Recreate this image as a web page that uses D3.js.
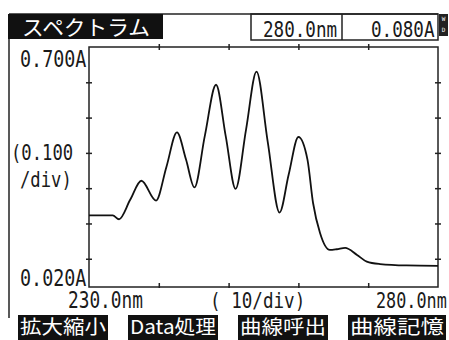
<!DOCTYPE html>
<html>
<head>
<meta charset="utf-8">
<script src="https://cdn.jsdelivr.net/npm/d3@7"></script>
<style>
  body { margin: 0; background: #fff; }
  text { font-family: "DejaVu Sans Mono", monospace; fill: #1a1a1a; }
  .jp { font-family: "Noto Sans CJK JP", sans-serif; }
</style>
</head>
<body>
<div id="chart"></div>
<script>
// spectrum (nm, absorbance)
const wavelength = [230.0, 233.4, 234.3, 235.9, 237.5, 239.6, 241.1, 242.6, 243.9, 245.1,
  246.6, 248.2, 249.6, 251.0, 252.5, 254.0, 255.6, 257.3, 258.6, 260.0, 261.3, 262.1,
  263.1, 264.5, 265.5, 266.7, 268.4, 269.8, 271.7, 275.5, 280.0];
const absorbance = [0.223, 0.223, 0.212, 0.267, 0.321, 0.265, 0.361, 0.458, 0.381, 0.302,
  0.449, 0.593, 0.446, 0.298, 0.466, 0.630, 0.432, 0.231, 0.338, 0.445, 0.381, 0.258,
  0.173, 0.125, 0.127, 0.131, 0.111, 0.092, 0.085, 0.081, 0.080];

const yTicks = [0.1, 0.2, 0.3, 0.4, 0.5, 0.6];
const xTicks = [240, 250, 260, 270];
const softKeys = ['拡大縮小', 'Data処理', '曲線呼出', '曲線記憶'];
const title = 'スペクトラム';
const readout = ['280.0nm', '0.080A'];

const W = 449, H = 340;
const plot = { left: 89, right: 438, top: 47, bottom: 287 };

const svg = d3.select('#chart')
  .append('svg')
  .attr('width', W)
  .attr('height', H);

const x = d3.scaleLinear().domain([230, 280]).range([plot.left, plot.right]);
const y = d3.scaleLinear().domain([0.02, 0.7]).range([plot.bottom, plot.top]);

// the instrument font is tall and narrow: stretch mono text vertically
function monoText(tx, ty, size, str) {
  return svg.append('text')
    .attr('transform', `translate(${tx},${ty}) scale(1,1.25)`)
    .style('font-size', size + 'px')
    .text(str);
}

// outer frame + header
svg.append('line').attr('x1', 9).attr('x2', 9).attr('y1', 14).attr('y2', 318)
  .attr('stroke', '#222').attr('stroke-width', 1.5);
svg.append('line').attr('x1', 9).attr('x2', 438).attr('y1', 14).attr('y2', 14)
  .attr('stroke', '#222').attr('stroke-width', 1.5);

svg.append('rect').attr('x', 8).attr('y', 14).attr('width', 155).attr('height', 25).attr('fill', '#111');
svg.append('text').attr('class', 'jp')
  .attr('x', 22).attr('y', 35)
  .style('font-size', '21px').style('fill', '#fff')
  .attr('textLength', 128).attr('lengthAdjust', 'spacingAndGlyphs')
  .text(title);

// readout boxes
svg.append('rect').attr('x', 251).attr('y', 14).attr('width', 187).attr('height', 26)
  .attr('fill', 'none').attr('stroke', '#222').attr('stroke-width', 1.5);
svg.append('line').attr('x1', 342).attr('x2', 342).attr('y1', 14).attr('y2', 40)
  .attr('stroke', '#222').attr('stroke-width', 1.5);
monoText(263, 37, 17.6, readout[0]);
monoText(371, 37, 17.6, readout[1]);

// little W/D badge
svg.append('rect').attr('x', 439).attr('y', 14).attr('width', 9).attr('height', 22).attr('fill', '#222');
svg.append('text').attr('x', 443.5).attr('y', 21).attr('text-anchor', 'middle')
  .style('font-size', '6px').style('fill', '#fff').text('W');
svg.append('text').attr('x', 443.5).attr('y', 32).attr('text-anchor', 'middle')
  .style('font-size', '6px').style('fill', '#fff').text('D');

// plot frame
svg.append('rect')
  .attr('x', plot.left).attr('y', plot.top)
  .attr('width', plot.right - plot.left).attr('height', plot.bottom - plot.top)
  .attr('fill', 'none').attr('stroke', '#222').attr('stroke-width', 1.5);

// cross ticks on all four sides
function crossTicks(axisA, axisB, transform) {
  [axisA, axisB].forEach(ax => {
    svg.append('g')
      .attr('transform', transform)
      .call(ax.tickSizeOuter(0).tickFormat(''))
      .call(g => g.select('.domain').remove())
      .call(g => g.selectAll('line').attr('stroke', '#222').attr('stroke-width', 1.5));
  });
}
crossTicks(d3.axisLeft(y).tickValues(yTicks).tickSizeInner(3),
  d3.axisRight(y).tickValues(yTicks).tickSizeInner(3), `translate(${plot.left},0)`);
crossTicks(d3.axisLeft(y).tickValues(yTicks).tickSizeInner(3),
  d3.axisRight(y).tickValues(yTicks).tickSizeInner(3), `translate(${plot.right},0)`);
crossTicks(d3.axisTop(x).tickValues(xTicks).tickSizeInner(3),
  d3.axisBottom(x).tickValues(xTicks).tickSizeInner(3), `translate(0,${plot.top})`);
crossTicks(d3.axisTop(x).tickValues(xTicks).tickSizeInner(4),
  d3.axisBottom(x).tickValues(xTicks).tickSizeInner(1), `translate(0,${plot.bottom})`);

// y labels
const fmtA = d3.format('.3f');
monoText(20, 67, 18.4, fmtA(y.domain()[1]) + 'A');
monoText(20, 286, 18.4, fmtA(y.domain()[0]) + 'A');
monoText(11, 160, 17.2, '(0.100');
monoText(20, 187, 17.2, '/div)');

// x labels
monoText(68, 308, 17.8, d3.format('.1f')(x.domain()[0]) + 'nm');
monoText(210, 308, 17.6, '(  10/div)');
monoText(376, 308, 16.8, d3.format('.1f')(x.domain()[1]) + 'nm');

// spectrum trace
const data = wavelength.map((w, i) => ({ w: w, a: absorbance[i] }));
const line = d3.line()
  .x(d => x(d.w))
  .y(d => y(d.a))
  .curve(d3.curveMonotoneX);

svg.append('path')
  .datum(data)
  .attr('fill', 'none')
  .attr('stroke', '#111')
  .attr('stroke-width', 1.8)
  .attr('d', line);

// soft keys along the bottom
const keyX = [18, 128, 238, 348];
const keyW = [90, 90, 90, 98];
const keys = svg.selectAll('.key')
  .data(softKeys)
  .join('g')
  .attr('class', 'key');
keys.append('rect')
  .attr('x', (d, i) => keyX[i]).attr('y', 315)
  .attr('width', (d, i) => keyW[i]).attr('height', 25)
  .attr('fill', '#111');
keys.append('text')
  .attr('class', 'jp')
  .attr('x', (d, i) => keyX[i] + 2).attr('y', 334)
  .style('font-size', '19px').style('fill', '#fff')
  .attr('textLength', (d, i) => keyW[i] - 4).attr('lengthAdjust', 'spacingAndGlyphs')
  .text(d => d);
</script>
</body>
</html>
